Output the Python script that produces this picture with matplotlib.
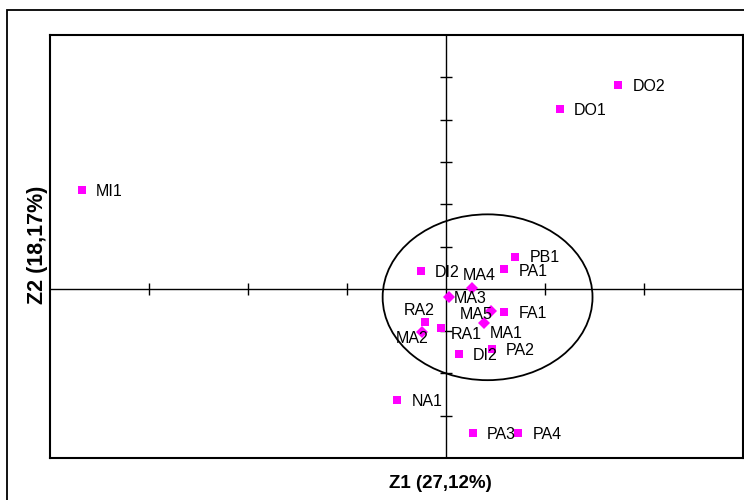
import matplotlib
matplotlib.use("Agg")
import matplotlib.pyplot as plt
from matplotlib.patches import Ellipse, Rectangle

plt.rcParams['font.family'] = ['Liberation Sans', 'DejaVu Sans']

# Observations drawn as squares
sq_names = ["MI1", "DO1", "DO2", "PB1", "PA1", "DI2", "FA1", "RA2", "RA1",
            "PA2", "DI2", "NA1", "PA3", "PA4"]
sq_z1 = [-3.68, 1.15, 1.74, 0.70, 0.59, -0.25, 0.59, -0.21, -0.05,
         0.46, 0.13, -0.49, 0.27, 0.73]
sq_z2 = [2.33, 4.26, 4.81, 0.76, 0.47, 0.43, -0.55, -0.79, -0.92,
         -1.42, -1.53, -2.62, -3.40, -3.40]

# Observations drawn as diamonds
dm_names = ["MA1", "MA2", "MA3", "MA4", "MA5"]
dm_z1 = [0.38, -0.24, 0.03, 0.26, 0.45]
dm_z2 = [-0.81, -1.01, -0.19, 0.03, -0.52]

# Ellipse around the central group
ell_center = (0.42, -0.20)
ell_width = 2.12
ell_height = 3.92

x_ticks = [-3, -2, -1, 1, 2]
y_ticks = [-3, -2, -1, 1, 2, 3, 4, 5]

# label placement in pixels (dx, dy, ha); default is to the right
label_pos = {
    "PB1": (14, 1, "left"),
    "PA1": (14, -1, "left"),
    "MA4": (8, 14, "center"),
    "MA3": (5, 0, "left"),
    "MA5": (-14, -2, "center"),
    "RA2": (-6, 13, "center"),
    "MA1": (6, -9, "left"),
    "RA1": (10, -5, "left"),
    "MA2": (-10, -5, "center"),
}

fig = plt.figure(figsize=(7.44, 5), dpi=100)

# outer frame
fig.patches.append(Rectangle((7 / 744, -0.2), 1.2, 1.18, transform=fig.transFigure,
                             fill=False, edgecolor="black", linewidth=1.3))

ax = fig.add_axes([50 / 744, 42 / 500, 693 / 744, 423 / 500])
ax.set_xlim(-4, 3)
ax.set_ylim(-4, 6)
ax.set_xticks([])
ax.set_yticks([])
for s in ax.spines.values():
    s.set_linewidth(1.5)

# axis lines through origin with cross ticks
ax.axhline(0, color="black", linewidth=1)
ax.axvline(0, color="black", linewidth=1)
ax.plot(x_ticks, [0] * len(x_ticks), linestyle="none", marker="|",
        markersize=8, color="black", markeredgewidth=1)
ax.plot([0] * len(y_ticks), y_ticks, linestyle="none", marker="_",
        markersize=8, color="black", markeredgewidth=1)

ax.add_patch(Ellipse(ell_center, ell_width, ell_height, fill=False,
                     edgecolor="black", linewidth=1.3))

ax.plot(dm_z1, dm_z2, linestyle="none", marker="D", markersize=6.5,
        color="#ff00ff", markeredgewidth=0)
ax.plot(sq_z1, sq_z2, linestyle="none", marker="s", markersize=5.5,
        color="#ff00ff", markeredgewidth=0)

px = 72 / 100
for name, x, y in zip(sq_names + dm_names, sq_z1 + dm_z1, sq_z2 + dm_z2):
    dx, dy, ha = label_pos.get(name, (14, 0, "left"))
    ax.annotate(name, (x, y), xytext=(dx * px, dy * px), textcoords="offset points",
                ha=ha, va="center_baseline", fontsize=11.5,
                family=['Liberation Sans Narrow', 'Liberation Sans'])

fig.text(440 / 744, 1 - 484 / 500, "Z1 (27,12%)", ha="center", va="center",
         fontsize=13.5, fontweight="bold")
fig.text(37 / 744, 1 - 245 / 500, "Z2 (18,17%)", ha="center", va="center",
         rotation=90, fontsize=15.5, fontweight="bold")

fig.savefig("out.png", dpi=100)
